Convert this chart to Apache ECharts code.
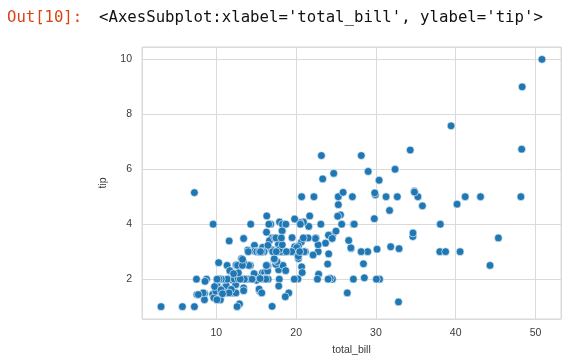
<!DOCTYPE html>
<html>
<head>
<meta charset="utf-8">
<script src="https://cdn.jsdelivr.net/npm/echarts@6/dist/echarts.min.js"></script>
<style>html,body{margin:0;padding:0;background:#fff;}#c{width:577px;height:361px;}</style>
</head>
<body>
<div id="c"></div>
<script>
const promptText = "Out[10]:";
const reprText = "<AxesSubplot:xlabel='total_bill', ylabel='tip'>";
const xName = "total_bill";
const yName = "tip";
const totalBill = [16.99,10.34,21.01,23.68,24.59,25.29,8.77,26.88,15.04,14.78,10.27,35.26,15.42,18.43,14.83,21.58,10.33,16.29,16.97,20.65,17.92,20.29,15.77,39.42,19.82,17.81,13.37,12.69,21.7,19.65,9.55,18.35,15.06,20.69,17.78,24.06,16.31,16.93,18.69,31.27,16.04,17.46,13.94,9.68,30.4,18.29,22.23,32.4,28.55,18.04,12.54,10.29,34.81,9.94,25.56,19.49,38.01,26.41,11.24,48.27,20.29,13.81,11.02,18.29,17.59,20.08,16.45,3.07,20.23,15.01,12.02,17.07,26.86,25.28,14.73,10.51,17.92,27.2,22.76,17.29,19.44,16.66,10.07,32.68,15.98,34.83,13.03,18.28,24.71,21.16,28.97,22.49,5.75,16.32,22.75,40.17,27.28,12.03,21.01,12.46,11.35,15.38,44.3,22.42,20.92,15.36,20.49,25.21,18.24,14.31,14.0,7.25,38.07,23.95,25.71,17.31,29.93,10.65,12.43,24.08,11.69,13.42,14.26,15.95,12.48,29.8,8.52,14.52,11.38,22.82,19.08,20.27,11.17,12.26,18.26,8.51,10.33,14.15,16.0,13.16,17.47,34.3,41.19,27.05,16.43,8.35,18.64,11.87,9.78,7.51,14.07,13.13,17.26,24.55,19.77,29.85,48.17,25.0,13.39,16.49,21.5,12.66,16.21,13.81,17.51,24.52,20.76,31.71,10.59,10.63,50.81,15.81,7.25,31.85,16.82,32.9,17.89,14.48,9.6,34.63,34.65,23.33,45.35,23.17,40.55,20.69,20.9,30.46,18.15,23.1,15.69,19.81,28.44,15.48,16.58,7.56,10.34,43.11,13.0,13.51,18.71,12.74,13.0,16.4,20.53,16.47,26.59,38.73,24.27,12.76,30.06,25.89,48.33,13.27,28.17,12.9,28.15,11.59,7.74,30.14,12.16,13.42,8.58,15.98,13.42,16.27,10.09,20.45,13.28,22.12,24.01,15.69,11.61,10.77,15.53,10.07,12.6,32.83,35.83,29.03,27.18,22.67,17.82,18.78];
const tip = [1.01,1.66,3.5,3.31,3.61,4.71,2.0,3.12,1.96,3.23,1.71,5.0,1.57,3.0,3.02,3.92,1.67,3.71,3.5,3.35,4.08,2.75,2.23,7.58,3.18,2.34,2.0,2.0,4.3,3.0,1.45,2.5,3.0,2.45,3.27,3.6,2.0,3.07,2.31,5.0,2.24,2.54,3.06,1.32,5.6,3.0,5.0,6.0,2.05,3.0,2.5,2.6,5.2,1.56,4.34,3.51,3.0,1.5,1.76,6.73,3.21,2.0,1.98,3.76,2.64,3.15,2.47,1.0,2.01,2.09,1.97,3.0,3.14,5.0,2.2,1.25,3.08,4.0,3.0,2.71,3.0,3.4,1.83,5.0,2.03,5.17,2.0,4.0,5.85,3.0,3.0,3.5,1.0,4.3,3.25,4.73,4.0,1.5,3.0,1.5,2.5,3.0,2.5,3.48,4.08,1.64,4.06,4.29,3.76,4.0,3.0,1.0,4.0,2.55,4.0,3.5,5.07,1.5,1.8,2.92,2.31,1.68,2.5,2.0,2.52,4.2,1.48,2.0,2.0,2.18,1.5,2.83,1.5,2.0,3.25,1.25,2.0,2.0,2.0,2.75,3.5,6.7,5.0,5.0,2.3,1.5,1.36,1.63,1.73,2.0,2.5,2.0,2.74,2.0,2.0,5.14,5.0,3.75,2.61,2.0,3.5,2.5,2.0,2.0,3.0,3.48,2.24,4.5,1.61,2.0,10.0,3.16,5.15,3.18,4.0,3.11,2.0,2.0,4.0,3.55,3.68,5.65,3.5,6.5,3.0,5.0,3.5,2.0,3.5,4.0,1.5,4.19,2.56,2.02,4.0,1.44,2.0,5.0,2.0,2.0,4.0,2.01,2.0,2.5,4.0,3.23,3.41,3.0,2.03,2.23,2.0,5.16,9.0,2.5,6.5,1.1,3.0,1.5,1.44,3.09,2.2,3.48,1.92,3.0,1.58,2.5,2.0,3.0,2.72,2.88,2.0,3.0,3.39,1.47,3.0,1.25,1.0,1.17,4.67,5.92,2.0,2.0,1.75,3.0];

const points = totalBill.map((v, i) => [v, tip[i]]);
const xMin = Math.min(...totalBill), xMax = Math.max(...totalBill);
const yMin = Math.min(...tip), yMax = Math.max(...tip);
const xPad = (xMax - xMin) * 0.05, yPad = (yMax - yMin) * 0.05;

const chart = echarts.init(document.getElementById('c'), null, {renderer: 'canvas'});
const intOnly = v => (Math.abs(v - Math.round(v)) < 1e-9 ? String(Math.round(v)) : '');
const labelStyle = {color: '#3a3a3a', fontSize: 10.5, fontFamily: 'Liberation Sans, Arial, sans-serif'};
chart.setOption({
  animation: false,
  backgroundColor: '#fff',
  title: [
    {text: promptText, left: 2, top: 5, textStyle: {color: '#d84315', fontSize: 15.6, fontWeight: 'normal', fontFamily: 'DejaVu Sans Mono, monospace'}},
    {text: reprText, left: 94, top: 5, textStyle: {color: '#111', fontSize: 15.7, fontWeight: 'normal', fontFamily: 'DejaVu Sans Mono, monospace'}}
  ],
  grid: {left: 142, top: 47, right: 16, bottom: 42, show: true, borderColor: '#dadada', borderWidth: 1},
  xAxis: {
    type: 'value', min: xMin - xPad, max: xMax + xPad, splitNumber: 5,
    name: xName, nameLocation: 'middle', nameGap: 26, nameTextStyle: labelStyle,
    axisLine: {show: false}, axisTick: {show: false},
    axisLabel: Object.assign({margin: 9, formatter: intOnly, showMinLabel: false, showMaxLabel: false}, labelStyle),
    splitLine: {show: true, lineStyle: {color: '#dadada', width: 1}}
  },
  yAxis: {
    type: 'value', min: yMin - yPad, max: yMax + yPad, splitNumber: 5,
    name: yName, nameLocation: 'middle', nameGap: 33, nameTextStyle: labelStyle,
    axisLine: {show: false}, axisTick: {show: false},
    axisLabel: Object.assign({margin: 10, formatter: intOnly, showMinLabel: false, showMaxLabel: false}, labelStyle),
    splitLine: {show: true, lineStyle: {color: '#dadada', width: 1}}
  },
  series: [{
    type: 'scatter', data: points, symbolSize: 7.8,
    itemStyle: {color: '#1f77b4', borderColor: '#ffffff', borderWidth: 0.6, opacity: 1}
  }]
});
</script>
</body>
</html>
